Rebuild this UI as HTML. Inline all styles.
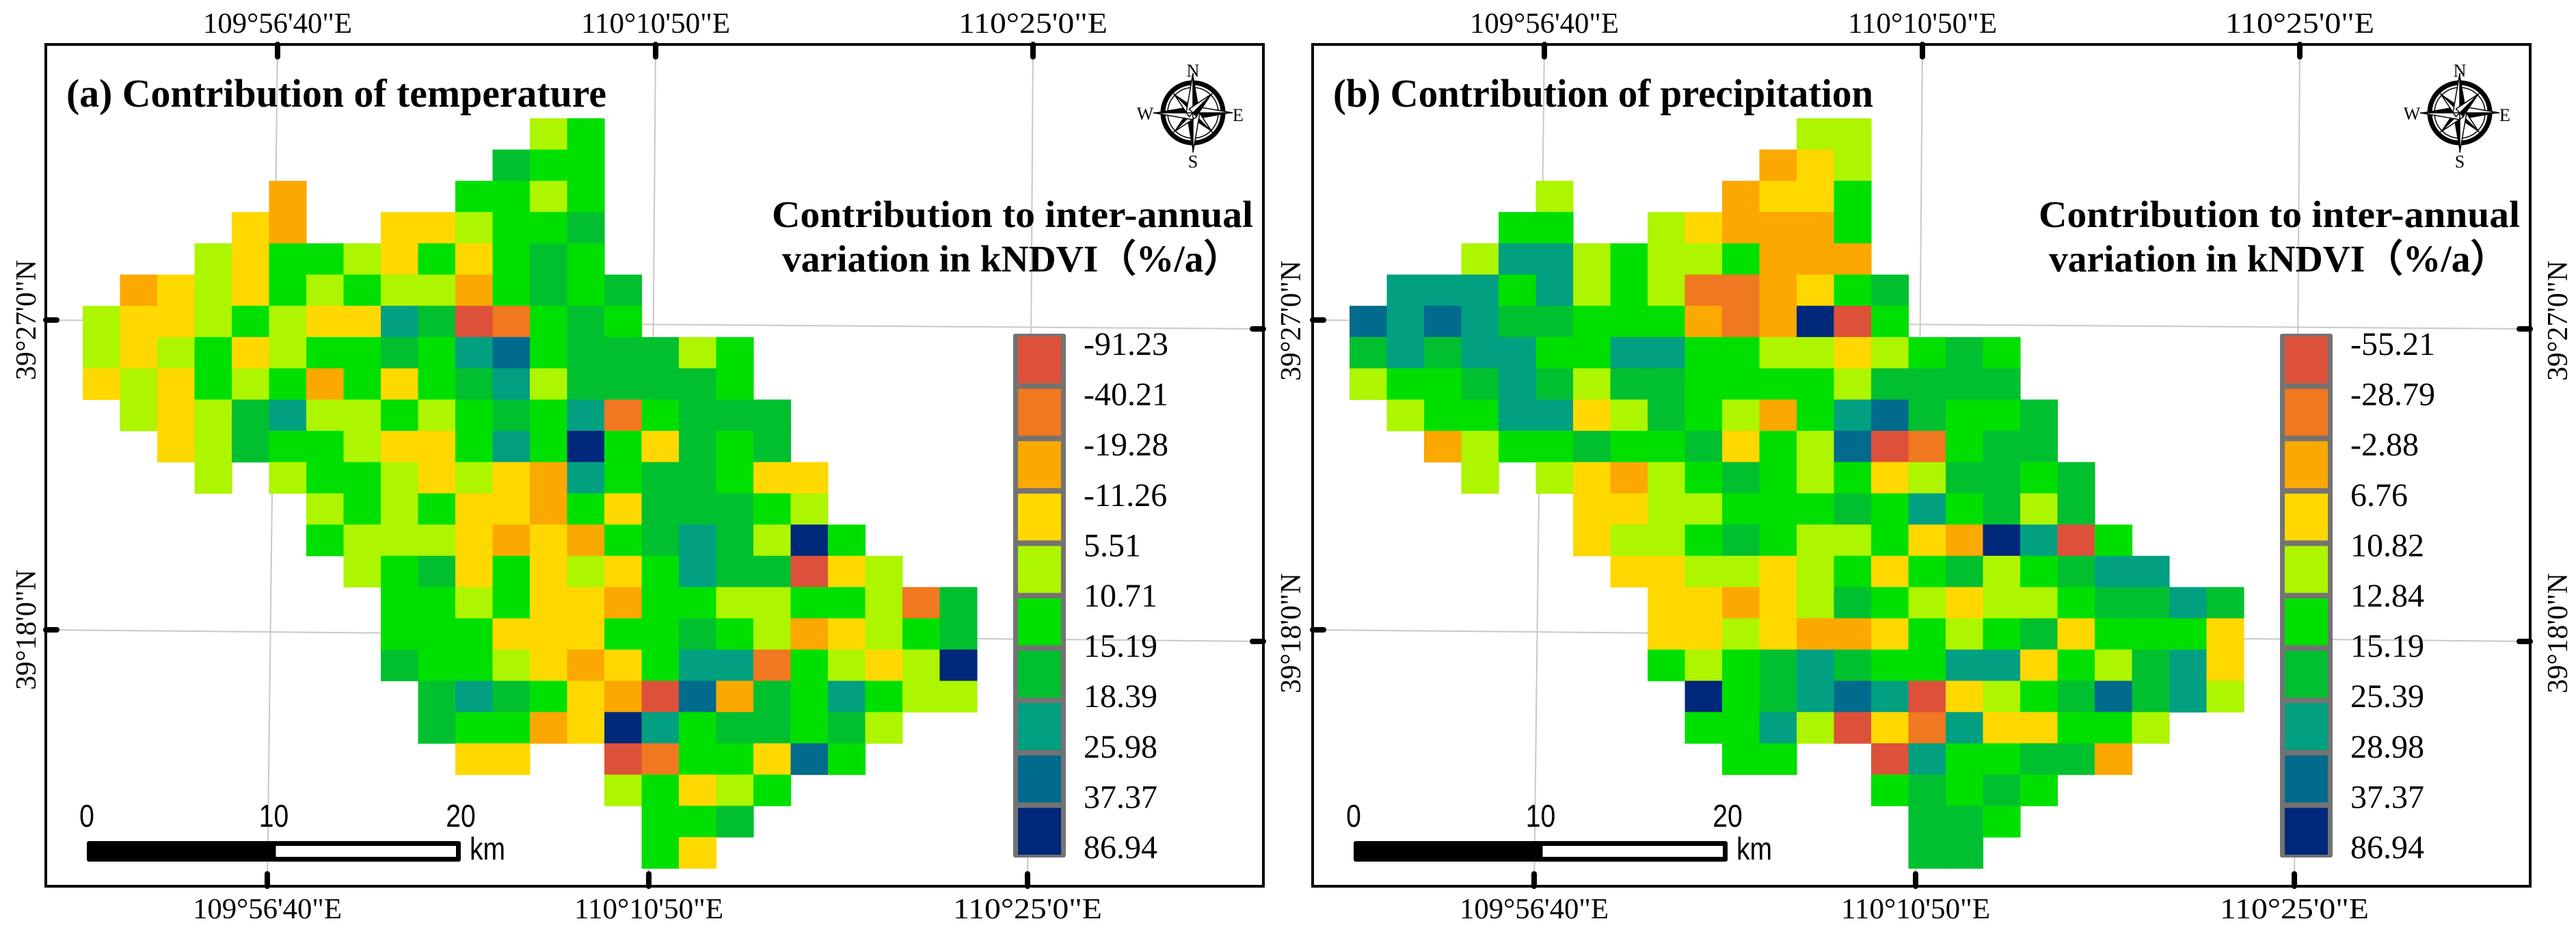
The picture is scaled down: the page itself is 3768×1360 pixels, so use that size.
<!DOCTYPE html>
<html><head><meta charset="utf-8"><style>
html,body{margin:0;padding:0;background:#fff;}
svg{display:block;}
text{font-family:"Liberation Serif",serif;}
</style></head><body>
<svg id="fig" xmlns="http://www.w3.org/2000/svg" width="3768" height="1360" viewBox="0 0 3768 1360">
<rect x="0" y="0" width="3768" height="1360" fill="#fff"/>
<g id="pa"></g>
<g id="pb"></g>
</svg>
<script>
const NS="http://www.w3.org/2000/svg";
const palette=["#dd513a","#f07820","#fba800","#ffd800","#aef500","#00e000","#00c030","#00a080","#006b8c","#00287a"];
const labelsA=["-91.23","-40.21","-19.28","-11.26","5.51","10.71","15.19","18.39","25.98","37.37","86.94"];
const labelsB=["-55.21","-28.79","-2.88","6.76","10.82","12.84","15.19","25.39","28.98","37.37","86.94"];
const lonTicks=["109°56'40\"E","110°10'50\"E","110°25'0\"E"];
const latTicks=["39°27'0\"N","39°18'0\"N"];
const scaleTicks=["0","10","20"];
const rowsA=[
[[12,"45"]],[[11,"655"]],[[5,"2"],[10,"5545"]],[[4,"32"],[8,"33"],[10,"4556"]],
[[3,"43554353565"]],[[1,"23435454425656"]],[[0,"433454337601565"]],
[[0,"434534556578566645"]],[[0,"343545253567466665"]],[[1,"434674454565715666"]],
[[2,"34655433575953656"]],[[3,"4"],[5,"455434327566533"]],[[6,"45453325366654"]],
[[6,"544432325676495"]],[[7,"456353435766034"]],[[8,"5545332554455416"]],
[[8,"5553335565423456"]],[[8,"6554323577154349"]],[[9,"676532082657544"]],
[[9,"6552397566564"]],[[10,"33"],[14,"0155385"]],[[14,"45345"]],[[15,"556"]],[[15,"53"]]];
const rowsB=[
[[12,"44"]],[[11,"234"]],[[5,"4"],[10,"2335"]],[[4,"55"],[8,"43"],[10,"2225"]],
[[3,"47745445222"]],[[1,"77757454112356"]],[[0,"878766555212905"]],
[[0,"676775577554434565"]],[[0,"455676466555546666"]],[[1,"455773465425786556"]],
[[2,"24556556354801566"]],[[3,"4"],[5,"432456545346656"]],[[6,"33445556575646"]],
[[6,"344565445329705"]],[[7,"334434535645677"]],[[8,"3323465434456676"]],
[[8,"3343223545635553"]],[[8,"5456765577354673"]],[[9,"956787034568674"]],
[[9,"5574031733554"]],[[10,"55"],[14,"0755662"]],[[14,"56565"]],[[15,"665"]],[[15,"66"]]];

function el(tag,attrs,parent,txt){const e=document.createElementNS(NS,tag);for(const k in attrs)e.setAttribute(k,attrs[k]);if(txt!==undefined)e.textContent=txt;parent.appendChild(e);return e;}

function panel(g,dx,title,labels,rows,showLeftLat){
  const L=67+dx,R=1848+dx,T=65,B=1296;
  const topX=[406,959,1511].map(v=>v+dx), botX=[391,949,1503].map(v=>v+dx);
  const latL=[468,921], latR=[481,938];
  const gl=el('g',{},g);
  
  
  for(let i=0;i<3;i++) el('line',{x1:topX[i],y1:T,x2:botX[i],y2:B,stroke:'#c8c8c8','stroke-width':2},gl);
  for(let i=0;i<2;i++) el('line',{x1:L,y1:latL[i],x2:R,y2:latR[i],stroke:'#c8c8c8','stroke-width':2},gl);
  const cw=54.5,ch=45.7,ox=121+dx,oy=173;
  const cg=el('g',{},g);
  
  
  rows.forEach((segs,r)=>{segs.forEach(([c0,s])=>{for(let i=0;i<s.length;i++){
    const v=+s[i];const x=ox+(c0+i)*cw, y=oy+r*ch;
    const rc=el('rect',{x:x.toFixed(1),y:y.toFixed(1),width:(cw+0.6).toFixed(1),height:(ch+0.6).toFixed(1),fill:palette[v]},cg);
    
    
  }});});
  const fr=el('rect',{x:L,y:T,width:R-L,height:B-T,fill:'none',stroke:'#000','stroke-width':4},g);
  
  
  for(let i=0;i<3;i++){
    el('rect',{x:topX[i]-4,y:T-4,width:8,height:26,rx:4,fill:'#000'},g);
    el('rect',{x:botX[i]-4,y:B-22,width:8,height:26,rx:4,fill:'#000'},g);
    const t1=el('text',{x:topX[i],y:48,'font-size':42,'text-anchor':'middle',textLength:218,lengthAdjust:'spacingAndGlyphs'},g,lonTicks[i]);
    
    
    const t2=el('text',{x:botX[i],y:1343,'font-size':42,'text-anchor':'middle',textLength:218,lengthAdjust:'spacingAndGlyphs'},g,lonTicks[i]);
    
    
  }
  for(let i=0;i<2;i++){
    el('rect',{x:L-4,y:latL[i]-4,width:24,height:8,rx:4,fill:'#000'},g);
    el('rect',{x:R-20,y:latR[i]-4,width:24,height:8,rx:4,fill:'#000'},g);
    if(showLeftLat){
      const t=el('text',{x:0,y:0,'font-size':42,'text-anchor':'middle',textLength:176,lengthAdjust:'spacingAndGlyphs',transform:`translate(${L-15},${latL[i]}) rotate(-90)`},g,latTicks[i]);
      
      
    }
    const t=el('text',{x:0,y:0,'font-size':42,'text-anchor':'middle',textLength:176,lengthAdjust:'spacingAndGlyphs',transform:`translate(${R+54},${latR[i]-12}) rotate(-90)`},g,latTicks[i]);
    
    
  }
  const tt=el('text',{x:97+dx,y:156,'font-size':58,'font-weight':'bold',textLength:790,lengthAdjust:'spacingAndGlyphs'},g,title);
  
  
  const l1=el('text',{x:1129+dx,y:332,'font-size':55,'font-weight':'bold',textLength:704,lengthAdjust:'spacingAndGlyphs'},g,'Contribution to inter-annual');
  
  
  const l2=el('text',{x:1144+dx,y:397,'font-size':55,'font-weight':'bold',textLength:672,lengthAdjust:'spacingAndGlyphs'},g,'variation in kNDVI（%/a）');
  
  
  const bx=1482+dx,bt=488,bb=1254,bw=77,n=palette.length,bh=(bb-bt)/n;
  const cb=el('rect',{x:bx,y:bt,width:bw,height:bb-bt,fill:'#737373',rx:3},g);
  
  
  for(let i=0;i<n;i++){
    const r=el('rect',{x:bx+7,y:(bt+i*bh+4).toFixed(1),width:bw-14,height:(bh-8).toFixed(1),fill:palette[i]},g);
    
    
  }
  labels.forEach((s,i)=>{
    const y=bt+15+i*((bb-bt-30)/(labels.length-1))+16;
    const t=el('text',{x:1585+dx,y:y.toFixed(1),'font-size':48},g,s);
    
    
  });
  const cx=1745+dx,cy=165;
  const cp=el('g',{},g);
  
  
  el('circle',{cx,cy,r:44,fill:'none',stroke:'#000','stroke-width':7},cp);
  el('circle',{cx,cy,r:37,fill:'none',stroke:'#000','stroke-width':1.5},cp);
  for(let k=0;k<8;k++){
    const a=k*Math.PI/4, len=(k%2===0)?58:40, w=(k%2===0)?10:8;
    const c=Math.cos(a),s=Math.sin(a);
    el('polygon',{points:`${cx+c*len},${cy+s*len} ${cx-s*w},${cy+c*w} ${cx},${cy}`,fill:'#000'},cp);
    el('polygon',{points:`${cx+c*len},${cy+s*len} ${cx+s*w},${cy-c*w} ${cx},${cy}`,fill:'#fff',stroke:'#000','stroke-width':1.5},cp);
  }
  el('text',{x:cx,y:cy-53,'font-size':26,'text-anchor':'middle'},cp,'N');
  el('text',{x:cx,y:cy+80,'font-size':26,'text-anchor':'middle'},cp,'S');
  el('text',{x:cx-70,y:cy+10,'font-size':26,'text-anchor':'middle'},cp,'W');
  el('text',{x:cx+66,y:cy+12,'font-size':26,'text-anchor':'middle'},cp,'E');
  const sb=el('g',{},g);
  
  
  const x0=127+dx,x1=674+dx,xm=(x0+x1)/2;
  el('rect',{x:x0,y:1230,width:x1-x0,height:30,fill:'#000',rx:3},sb);
  el('rect',{x:xm+3,y:1237,width:x1-xm-10,height:16,fill:'#fff'},sb);
  scaleTicks.forEach((s,i)=>{
    el('text',{x:x0+i*(x1-x0)/2,y:1209,'font-size':46,'text-anchor':'middle',transform:`translate(${(x0+i*(x1-x0)/2)*0.15},0) scale(0.85,1)`,style:'font-family:"Liberation Sans",sans-serif'},sb,s);
  });
  el('text',{x:(687+dx)/0.85,y:1257,'font-size':46,transform:'scale(0.85,1)',style:'font-family:"Liberation Sans",sans-serif'},sb,'km');
}
panel(document.getElementById('pa'),0,'(a) Contribution of temperature',labelsA,rowsA,true);
panel(document.getElementById('pb'),1853,'(b) Contribution of precipitation',labelsB,rowsB,false);
</script>
</body></html>
